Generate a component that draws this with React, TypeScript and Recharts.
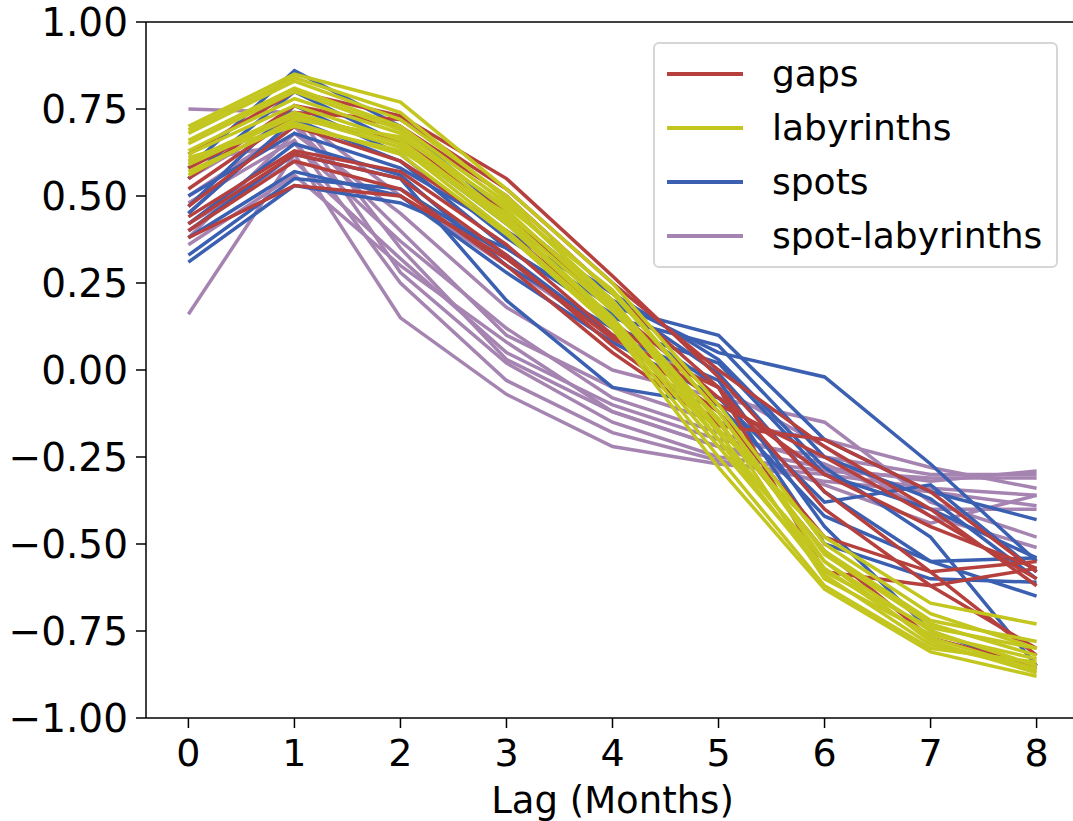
import React from 'react';
import { LineChart, Line, XAxis, YAxis, ReferenceLine, Legend } from 'recharts';

const lags = [0, 1, 2, 3, 4, 5, 6, 7, 8];
const xTicks = [0, 1, 2, 3, 4, 5, 6, 7, 8];
const yTicks = [-1, -0.75, -0.5, -0.25, 0, 0.25, 0.5, 0.75, 1];

const gaps = [
  [0.62, 0.80, 0.73, 0.55, 0.27, -0.02, -0.35, -0.58, -0.82],
  [0.55, 0.76, 0.70, 0.50, 0.22, -0.05, -0.40, -0.62, -0.80],
  [0.52, 0.73, 0.66, 0.45, 0.18, -0.08, -0.30, -0.45, -0.57],
  [0.47, 0.70, 0.60, 0.40, 0.14, -0.10, -0.25, -0.42, -0.60],
  [0.44, 0.63, 0.57, 0.36, 0.10, -0.12, -0.48, -0.58, -0.55],
  [0.42, 0.62, 0.55, 0.33, 0.07, -0.15, -0.52, -0.77, -0.85],
  [0.40, 0.60, 0.52, 0.30, 0.05, -0.16, -0.20, -0.35, -0.58],
  [0.38, 0.53, 0.50, 0.32, 0.09, -0.05, -0.58, -0.62, -0.57],
  [0.58, 0.74, 0.72, 0.52, 0.25, 0.00, -0.22, -0.40, -0.62],
];

const labyrinths = [
  [0.70, 0.85, 0.77, 0.52, 0.25, -0.10, -0.50, -0.70, -0.80],
  [0.68, 0.83, 0.72, 0.50, 0.22, -0.12, -0.55, -0.75, -0.85],
  [0.66, 0.81, 0.70, 0.48, 0.20, -0.15, -0.52, -0.72, -0.78],
  [0.65, 0.80, 0.69, 0.46, 0.18, -0.18, -0.57, -0.77, -0.86],
  [0.63, 0.78, 0.68, 0.44, 0.17, -0.14, -0.60, -0.76, -0.83],
  [0.62, 0.76, 0.66, 0.43, 0.15, -0.20, -0.55, -0.78, -0.87],
  [0.60, 0.74, 0.65, 0.42, 0.14, -0.22, -0.58, -0.74, -0.80],
  [0.59, 0.73, 0.64, 0.40, 0.13, -0.25, -0.62, -0.80, -0.84],
  [0.57, 0.71, 0.62, 0.39, 0.12, -0.28, -0.63, -0.81, -0.88],
  [0.61, 0.70, 0.63, 0.45, 0.20, -0.17, -0.48, -0.67, -0.73],
  [0.56, 0.72, 0.67, 0.47, 0.23, -0.12, -0.53, -0.73, -0.82],
  [0.69, 0.84, 0.74, 0.49, 0.19, -0.20, -0.59, -0.79, -0.86],
];

const spots = [
  [0.58, 0.86, 0.70, 0.45, 0.20, 0.05, -0.02, -0.27, -0.55],
  [0.47, 0.76, 0.62, 0.38, 0.18, 0.10, -0.20, -0.35, -0.43],
  [0.45, 0.72, 0.60, 0.35, 0.15, 0.07, -0.25, -0.37, -0.60],
  [0.42, 0.65, 0.56, 0.30, 0.12, 0.02, -0.30, -0.40, -0.54],
  [0.40, 0.62, 0.55, 0.20, -0.05, -0.10, -0.42, -0.55, -0.65],
  [0.33, 0.55, 0.52, 0.33, 0.10, -0.03, -0.45, -0.75, -0.86],
  [0.31, 0.53, 0.48, 0.35, 0.16, -0.05, -0.50, -0.60, -0.61],
  [0.50, 0.68, 0.58, 0.40, 0.20, -0.01, -0.35, -0.55, -0.54],
  [0.38, 0.57, 0.50, 0.28, 0.08, -0.08, -0.38, -0.33, -0.58],
  [0.55, 0.80, 0.65, 0.42, 0.22, 0.03, -0.28, -0.48, -0.85],
];

const spotLabyrinths = [
  [0.75, 0.74, 0.35, 0.03, -0.12, -0.22, -0.28, -0.32, -0.29],
  [0.16, 0.62, 0.15, -0.07, -0.22, -0.27, -0.30, -0.34, -0.36],
  [0.45, 0.72, 0.28, 0.02, -0.15, -0.25, -0.29, -0.31, -0.31],
  [0.50, 0.70, 0.40, 0.10, -0.05, -0.15, -0.20, -0.28, -0.34],
  [0.42, 0.60, 0.32, 0.05, -0.10, -0.20, -0.25, -0.30, -0.30],
  [0.38, 0.68, 0.45, 0.18, 0.00, -0.08, -0.15, -0.38, -0.48],
  [0.55, 0.73, 0.50, 0.30, 0.10, -0.05, -0.22, -0.42, -0.51],
  [0.48, 0.66, 0.25, -0.03, -0.18, -0.26, -0.32, -0.35, -0.39],
  [0.60, 0.65, 0.37, 0.12, -0.08, -0.18, -0.27, -0.40, -0.40],
  [0.36, 0.56, 0.30, 0.08, -0.12, -0.22, -0.33, -0.44, -0.36],
];

const legendGroups = [
  { key: 'gaps', name: 'gaps', color: '#b5403e', series: gaps },
  { key: 'lab', name: 'labyrinths', color: '#c3c61f', series: labyrinths },
  { key: 'spots', name: 'spots', color: '#3b60b2', series: spots },
  { key: 'sl', name: 'spot-labyrinths', color: '#a684b1', series: spotLabyrinths },
];

// drawing order (bottom to top)
const drawOrder = ['sl', 'spots', 'gaps', 'lab'];

const data = lags.map((lag, i) => {
  const row: Record<string, number> = { lag };
  legendGroups.forEach((g) => {
    g.series.forEach((s, j) => {
      row[`${g.key}${j}`] = s[i];
    });
  });
  return row;
});

const FONT = '"DejaVu Sans", sans-serif';

const fmtY = (v: number) => (v < 0 ? '\u2212' + Math.abs(v).toFixed(2) : v.toFixed(2));

const LegendBox = () => (
  <div
    style={{
      width: 405,
      height: 226,
      boxSizing: 'border-box',
      border: '2px solid #d6d6d6',
      borderRadius: 6,
      background: 'rgba(255,255,255,0.85)',
      paddingTop: 3,
      fontFamily: FONT,
    }}
  >
    {legendGroups.map((g) => (
      <div key={g.key} style={{ display: 'flex', alignItems: 'center', height: 54 }}>
        <div style={{ marginLeft: 12, width: 76, height: 3.5, background: g.color }} />
        <div style={{ marginLeft: 29, fontSize: 36, color: '#000', lineHeight: '54px' }}>{g.name}</div>
      </div>
    ))}
  </div>
);

export default function App() {
  const lines: React.ReactNode[] = [];
  drawOrder.forEach((k) => {
    const g = legendGroups.find((x) => x.key === k)!;
    g.series.forEach((_, j) => {
      lines.push(
        <Line
          key={`${k}${j}`}
          type="linear"
          dataKey={`${k}${j}`}
          stroke={g.color}
          strokeWidth={3.5}
          dot={false}
          activeDot={false}
          legendType="none"
          isAnimationActive={false}
        />
      );
    });
  });

  return (
    <div style={{ position: 'absolute', left: 0, top: 0, width: 1073, height: 821, overflow: 'hidden', background: '#fff' }}>
      <LineChart width={1080} height={821} data={data} margin={{ top: 22, right: 1, bottom: 0, left: 0 }}>
        <XAxis
          dataKey="lag"
          type="number"
          domain={[-0.4, 8.4]}
          ticks={xTicks}
          allowDataOverflow
          height={103}
          tickSize={10}
          tickMargin={11}
          stroke="#000"
          strokeWidth={1.5}
          tick={{ fill: '#000', fontSize: 38, fontFamily: FONT }}
          label={{ value: 'Lag (Months)', position: 'insideBottom', offset: 8, fill: '#000', fontSize: 37, fontFamily: FONT }}
        />
        <YAxis
          type="number"
          domain={[-1, 1]}
          ticks={yTicks}
          width={146}
          tickSize={10}
          tickMargin={8}
          tickFormatter={fmtY}
          stroke="#000"
          strokeWidth={1.5}
          tick={{ fill: '#000', fontSize: 39, fontFamily: FONT }}
        />
        <ReferenceLine y={1} stroke="#000" strokeWidth={1.5} />
        {lines}
        <Legend
          layout="horizontal"
          verticalAlign="middle"
          align="center"
          wrapperStyle={{ top: 42, left: 653, width: 405, height: 226 }}
          content={() => <LegendBox />}
        />
      </LineChart>
    </div>
  );
}
